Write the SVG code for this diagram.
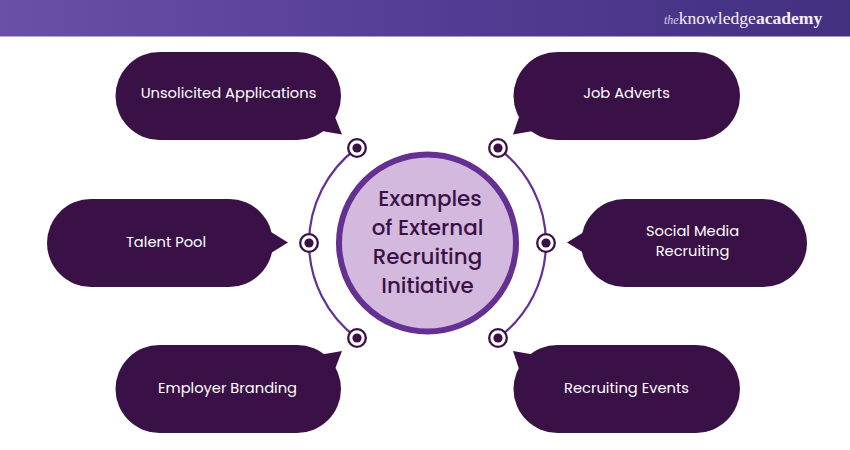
<svg xmlns="http://www.w3.org/2000/svg" width="850" height="450" viewBox="0 0 850 450">
<defs>
<linearGradient id="hdr" x1="0" x2="1" y1="0" y2="0"><stop offset="0" stop-color="#6a50a7"/><stop offset="0.5" stop-color="#533d95"/><stop offset="1" stop-color="#43307f"/></linearGradient>
</defs>
<style>
.b{fill:#3a1146}
.t{font-family:"Poppins","Inter","Open Sans",sans-serif;font-size:14.7px;fill:#fff;text-anchor:middle}
.c{font-family:"Poppins","Inter","Open Sans",sans-serif;font-size:21.4px;font-weight:500;fill:#3a1146;text-anchor:middle}
.l{fill:none;stroke:#643091;stroke-width:2.2}
.o{fill:#fff;stroke:#3a1146;stroke-width:2.3}
.d{fill:#3a1146}
.g{font-family:"Liberation Serif",serif;fill:#f3eff8}
</style>
<rect width="850" height="36.5" fill="url(#hdr)"/>
<text class="g" x="664" y="24" font-size="17.6"><tspan font-size="12" font-style="italic" opacity="0.8">the</tspan><tspan>knowledge</tspan><tspan font-weight="bold">academy</tspan></text>
<g id="connectors">
<path class="l" d="M357 148A119 119 0 0 0 309 243A119 119 0 0 0 357 338"/>
<path class="l" d="M498 148A119 119 0 0 1 546 243A119 119 0 0 1 498 338"/>
</g>
<g id="center"><circle cx="427.500" cy="243" r="88.500" fill="#d3b9dd" stroke="#643091" stroke-width="6"/>
<text class="c" x="430" y="205.500">Examples</text><text class="c" x="427.500" y="234.500">of External</text><text class="c" x="427.500" y="263.500">Recruiting</text><text class="c" x="427.500" y="292.500">Initiative</text></g>
<g id="n1"><rect class="b" x="115.500" y="52" width="225.500" height="88" rx="44"/><path class="b" d="M335 117L342 134.500L322 131Z"/><text class="t" x="228.500" y="98">Unsolicited Applications</text></g>
<g id="n2"><rect class="b" x="47" y="199" width="226" height="88" rx="44"/><path class="b" d="M271 232L288 242.500L271 253Z"/><text class="t" x="166" y="247">Talent Pool</text></g>
<g id="n3"><rect class="b" x="115.500" y="345" width="225.500" height="88" rx="44"/><path class="b" d="M322 354.500L342 351L335 369Z"/><text class="t" x="227.500" y="393">Employer Branding</text></g>
<g id="n4"><rect class="b" x="513.500" y="52" width="226.500" height="88" rx="44"/><path class="b" d="M519 117L513 134.500L533 131Z"/><text class="t" x="626.500" y="98">Job Adverts</text></g>
<g id="n5"><rect class="b" x="581" y="199" width="226" height="88" rx="44"/><path class="b" d="M584 232L567 242.500L584 253Z"/><text class="t" x="692.500" y="236">Social Media</text><text class="t" x="692.500" y="256">Recruiting</text></g>
<g id="n6"><rect class="b" x="513.500" y="345" width="226.500" height="88" rx="44"/><path class="b" d="M533 354.500L513 351L519 369Z"/><text class="t" x="626.500" y="393">Recruiting Events</text></g>
<g id="m1"><circle class="o" cx="357" cy="148" r="8.800"/><circle class="d" cx="357" cy="148" r="4.600"/></g>
<g id="m2"><circle class="o" cx="309" cy="243" r="8.800"/><circle class="d" cx="309" cy="243" r="4.600"/></g>
<g id="m3"><circle class="o" cx="357" cy="338" r="8.800"/><circle class="d" cx="357" cy="338" r="4.600"/></g>
<g id="m4"><circle class="o" cx="498" cy="148" r="8.800"/><circle class="d" cx="498" cy="148" r="4.600"/></g>
<g id="m5"><circle class="o" cx="546" cy="243" r="8.800"/><circle class="d" cx="546" cy="243" r="4.600"/></g>
<g id="m6"><circle class="o" cx="498" cy="338" r="8.800"/><circle class="d" cx="498" cy="338" r="4.600"/></g>
</svg>
